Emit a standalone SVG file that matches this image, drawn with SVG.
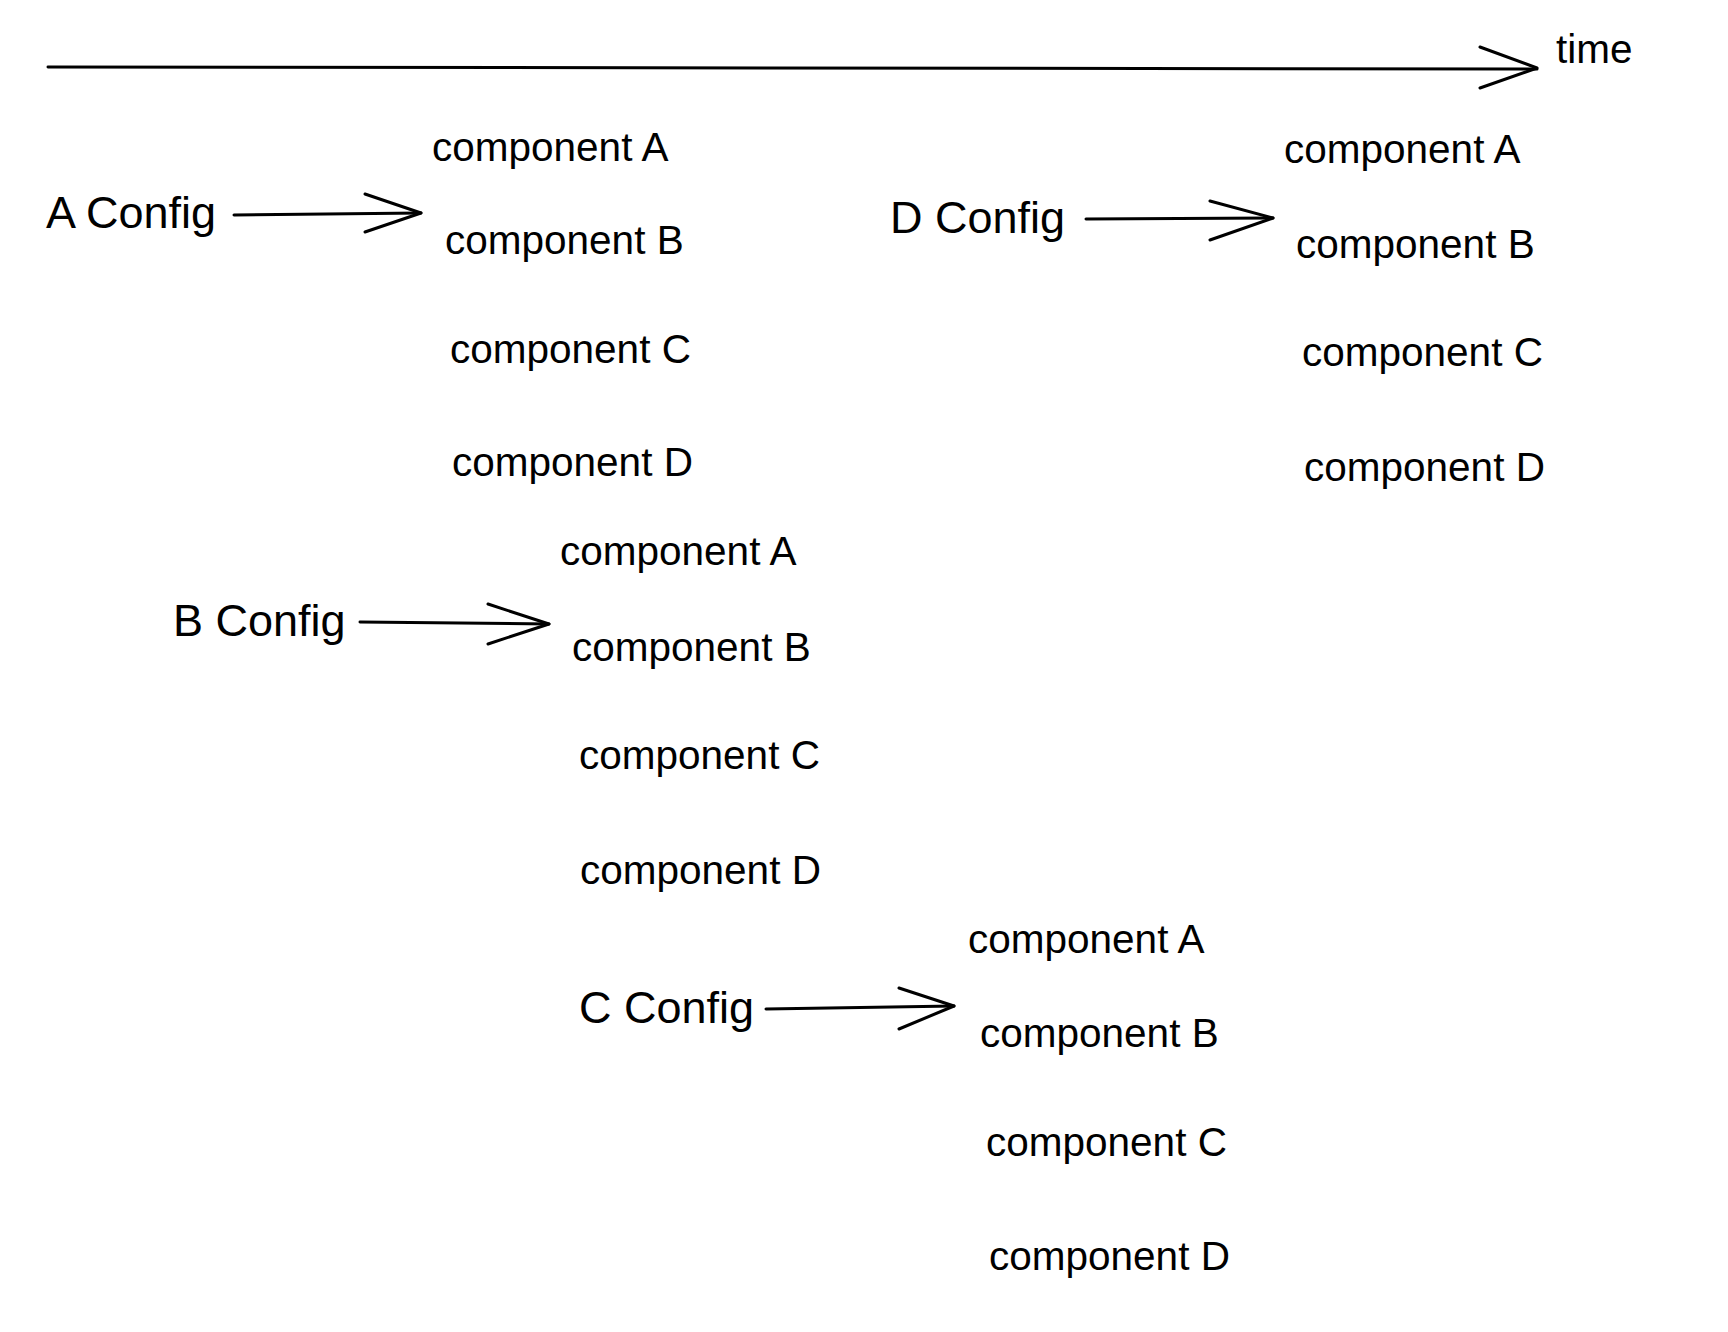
<svg xmlns="http://www.w3.org/2000/svg" width="1728" height="1332" viewBox="0 0 1728 1332">
<style>
.t{font-family:"Liberation Sans",Arial,sans-serif;font-size:40.5px;fill:#000}
.cfg{font-size:45px}
.ln{fill:none;stroke:#000;stroke-width:3;stroke-linecap:round;stroke-linejoin:round}
</style>
<rect width="1728" height="1332" fill="#fff"/>
<g id="connectors">
<g id="timeline"><path class="ln" d="M48,67 L1537,69"/><path class="ln" d="M1480,47 L1537,68 L1480,88"/></g>
<g id="arrowA"><path class="ln" d="M234,215 L421,213"/><path class="ln" d="M365,194 L421,213 L365,232"/></g>
<g id="arrowD"><path class="ln" d="M1086,219 L1273,218"/><path class="ln" d="M1210,201 L1273,218 L1210,240"/></g>
<g id="arrowB"><path class="ln" d="M360,622 L549,624"/><path class="ln" d="M488,604 L549,624 L488,644"/></g>
<g id="arrowC"><path class="ln" d="M766,1009 L954,1006"/><path class="ln" d="M899,988 L954,1006 L899,1029"/></g>
</g>
<g id="time"><text class="t" x="1556" y="63" font-size="43">time</text></g>
<g id="groupA">
<g id="aConfig"><text class="t cfg" x="46" y="228">A Config</text></g>
<g id="a-compA"><text class="t" x="432" y="161">component A</text></g>
<g id="a-compB"><text class="t" x="445" y="254">component B</text></g>
<g id="a-compC"><text class="t" x="450" y="363">component C</text></g>
<g id="a-compD"><text class="t" x="452" y="476">component D</text></g>
</g>
<g id="groupD">
<g id="dConfig"><text class="t cfg" x="890" y="233">D Config</text></g>
<g id="d-compA"><text class="t" x="1284" y="163">component A</text></g>
<g id="d-compB"><text class="t" x="1296" y="258">component B</text></g>
<g id="d-compC"><text class="t" x="1302" y="366">component C</text></g>
<g id="d-compD"><text class="t" x="1304" y="481">component D</text></g>
</g>
<g id="groupB">
<g id="bConfig"><text class="t cfg" x="173" y="636">B Config</text></g>
<g id="b-compA"><text class="t" x="560" y="565">component A</text></g>
<g id="b-compB"><text class="t" x="572" y="661">component B</text></g>
<g id="b-compC"><text class="t" x="579" y="769">component C</text></g>
<g id="b-compD"><text class="t" x="580" y="884">component D</text></g>
</g>
<g id="groupC">
<g id="cConfig"><text class="t cfg" x="579" y="1023">C Config</text></g>
<g id="c-compA"><text class="t" x="968" y="953">component A</text></g>
<g id="c-compB"><text class="t" x="980" y="1047">component B</text></g>
<g id="c-compC"><text class="t" x="986" y="1156">component C</text></g>
<g id="c-compD"><text class="t" x="989" y="1270">component D</text></g>
</g>
</svg>
